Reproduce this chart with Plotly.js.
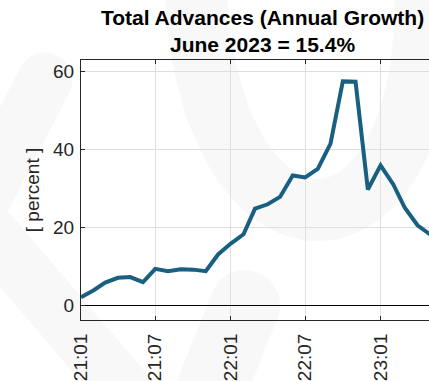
<!DOCTYPE html>
<html>
<head>
<meta charset="utf-8">
<script src="https://cdn.plot.ly/plotly-3.0.1.min.js"></script>
<style>
html,body{margin:0;padding:0;overflow:hidden;background:#fff;}
#chart{width:429px;height:381px;}
</style>
</head>
<body>
<div id="chart"></div>
<script>
// ---- data ----
var months = ["2021-01-01","2021-02-01","2021-03-01","2021-04-01","2021-05-01","2021-06-01",
              "2021-07-01","2021-08-01","2021-09-01","2021-10-01","2021-11-01","2021-12-01",
              "2022-01-01","2022-02-01","2022-03-01","2022-04-01","2022-05-01","2022-06-01",
              "2022-07-01","2022-08-01","2022-09-01","2022-10-01","2022-11-01","2022-12-01",
              "2023-01-01","2023-02-01","2023-03-01","2023-04-01","2023-05-01","2023-06-01"];
var growth = [2.0, 3.8, 5.75, 7.0, 7.2, 5.9, 9.3, 8.7, 9.2, 9.1, 8.7, 13.0,
              15.8, 18.2, 24.8, 25.9, 27.8, 33.3, 32.8, 35.0, 41.5, 57.5, 57.4, 29.7,
              35.9, 31.0, 25.0, 20.5, 18.2, 15.4];
var tickDates = ["2021-01-01","2021-07-01","2022-01-01","2022-07-01","2023-01-01"];
var tickLabels = ["21:01","21:07","22:01","22:07","23:01"];
var yTicks = [0, 20, 40, 60];
var titleText = "<b>Total Advances (Annual Growth)</b><br><b>June 2023 = 15.4%</b>";
var yTitle = "[ percent ]";

// ---- faint background watermark (decoration, pixel -> paper) ----
var L = 81, T = 60, W = 348, H = 260;
function P(x, y){ return ((x - L)/W).toFixed(4) + "," + ((T + H - y)/H).toFixed(4); }
var wm = "#f8f8f8";
var shapes = [
  {type:"path", xref:"paper", yref:"paper", layer:"below",
   path:"M" + P(45,80) + " L" + P(-25,215) + " L" + P(150,420),
   line:{color:wm, width:55}},
  {type:"path", xref:"paper", yref:"paper", layer:"below",
   path:"M" + P(195,430) + " L" + P(245,305),
   line:{color:wm, width:70}},
  {type:"path", xref:"paper", yref:"paper", layer:"below",
   path:"M" + P(195,-30) + " C" + P(200,290) + " " + P(440,290) + " " + P(425,-30),
   line:{color:wm, width:62}}
];

var trace = {
  x: months, y: growth, type: "scatter", mode: "lines",
  line: {color: "#185f80", width: 4}, hoverinfo: "skip"
};

var font = "Liberation Sans, Arial, Helvetica, sans-serif";
var layout = {
  width: 429, height: 381,
  margin: {l: L, r: 0, t: T, b: 381 - T - H, pad: 0},
  paper_bgcolor: "#ffffff", plot_bgcolor: "rgba(0,0,0,0)",
  showlegend: false,
  font: {family: font, size: 19, color: "#262626"},
  title: {text: titleText, font: {family: font, size: 21, color: "#000"},
          xref: "container", x: 0.612, xanchor: "center",
          yref: "container", y: 0.935, yanchor: "top"},
  xaxis: {
    type: "date", range: ["2021-01-01", "2023-04-29"],
    tickvals: tickDates, ticktext: tickLabels, tickangle: -90,
    ticks: "inside", ticklen: 4, tickcolor: "#262626",
    showline: true, linecolor: "#262626", linewidth: 1, mirror: "ticks",
    showgrid: true, gridcolor: "#dfdfdf", gridwidth: 1,
    zeroline: false, ticklabelstandoff: 5,
    tickfont: {family: font, size: 19, color: "#262626"}
  },
  yaxis: {
    range: [-3.85, 63], tickvals: yTicks,
    ticks: "inside", ticklen: 4, tickcolor: "#262626",
    showline: true, linecolor: "#262626", linewidth: 1, mirror: false,
    showgrid: true, gridcolor: "#dfdfdf", gridwidth: 1,
    zeroline: true, zerolinecolor: "#000", zerolinewidth: 1,
    ticklabelstandoff: 2,
    tickfont: {family: font, size: 19, color: "#262626"},
    title: {text: yTitle, font: {family: font, size: 19, color: "#262626"}, standoff: 8}
  },
  shapes: shapes
};

Plotly.newPlot("chart", [trace], layout, {staticPlot: true, displayModeBar: false}).then(function(){
  document.querySelectorAll(".shapelayer path").forEach(function(p){
    p.style.strokeLinecap = "round"; p.style.strokeLinejoin = "round";
  });
});
</script>
</body>
</html>
